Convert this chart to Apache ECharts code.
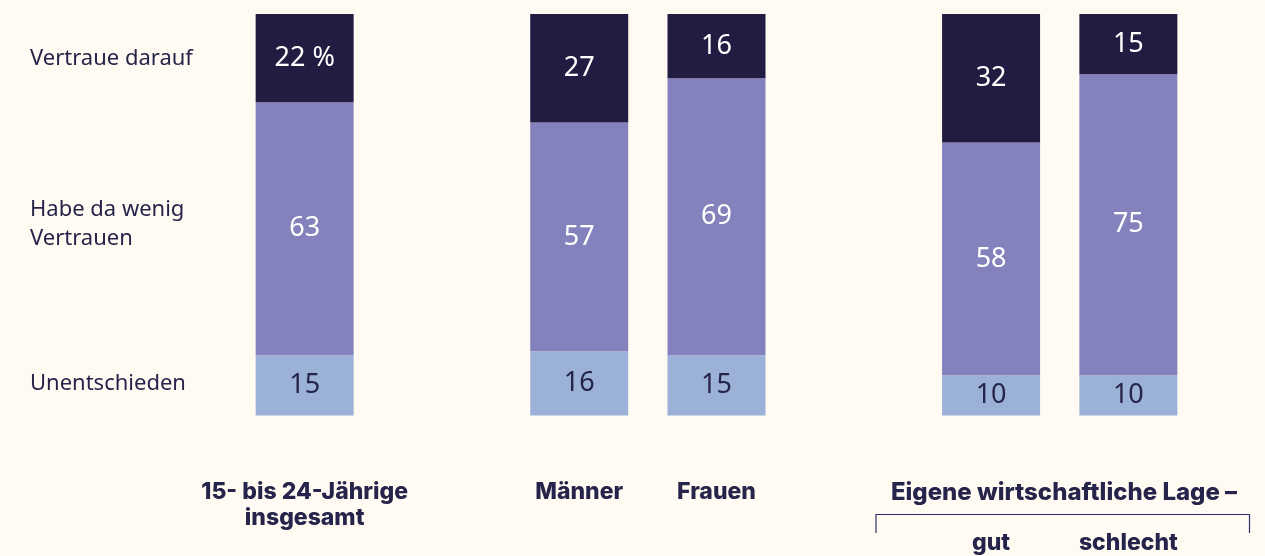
<!DOCTYPE html>
<html>
<head>
<meta charset="utf-8">
<script src="https://cdn.jsdelivr.net/npm/echarts@6/dist/echarts.min.js"></script>
<style>
  html, body { margin: 0; padding: 0; background: #fffbf3; }
  #main { width: 1265px; height: 556px; }
</style>
</head>
<body>
<div id="main"></div>
<script>
// slots: empty ones keep the gaps between the groups
const categories = ['15- bis 24-Jährige\ninsgesamt', '', 'Männer', 'Frauen', '', '\n\ngut', '\n\nschlecht'];
const unentschieden = [15, '-', 16, 15, '-', 10, 10];
const wenigVertrauen = [63, '-', 57, 69, '-', 58, 75];
const vertraue = [22, '-', 27, 16, '-', 32, 15];
const seriesNames = ['Unentschieden', 'Habe da wenig\nVertrauen', 'Vertraue darauf'];

const chart = echarts.init(document.getElementById('main'));

const dark = '#221c42';
const mid = '#8482bc';
const light = '#9bb1d7';
const textColor = '#26244a';
const numFont = '"Noto Sans", sans-serif';

function seg(name, data, color, labelColor, fmt) {
  return {
    name: name,
    type: 'bar',
    stack: 'all',
    barWidth: 98,
    data: data,
    itemStyle: { color: color },
    label: {
      show: true,
      position: 'inside',
      color: labelColor,
      fontFamily: numFont,
      fontSize: 27,
      formatter: fmt || '{c}'
    },
    emphasis: { disabled: true }
  };
}

var option = {
  backgroundColor: '#fffbf3',
  animation: false,
  grid: { left: 236, right: 68, top: 14, bottom: 140 },
  xAxis: {
    type: 'category',
    data: categories,
    axisLine: { show: false },
    axisTick: { show: false },
    axisLabel: {
      interval: 0,
      margin: 64,
      verticalAlign: 'top',
      color: textColor,
      fontFamily: 'Inter, sans-serif',
      fontWeight: 800,
      fontSize: 23,
      lineHeight: 25.5
    }
  },
  yAxis: { type: 'value', min: 0, max: 100, show: false },
  series: [
    seg(seriesNames[0], unentschieden, light, textColor),
    seg(seriesNames[1], wenigVertrauen, mid, '#ffffff'),
    seg(seriesNames[2], vertraue, dark, '#ffffff', function (p) {
      return p.dataIndex === 0 ? p.value + ' %' : p.value;
    })
  ],
  graphic: [
    { type: 'text', left: 30, top: 48, style: { text: seriesNames[2], fill: textColor, font: '22px "Noto Sans", sans-serif' } },
    { type: 'text', left: 30, top: 195, style: { text: seriesNames[1], fill: textColor, font: '22px "Noto Sans", sans-serif', lineHeight: 29 } },
    { type: 'text', left: 30, top: 373, style: { text: seriesNames[0], fill: textColor, font: '22px "Noto Sans", sans-serif' } },
    { type: 'text', x: 1064, y: 493, style: { text: 'Eigene wirtschaftliche Lage –', fill: textColor, font: '800 24px Inter, sans-serif', align: 'center', verticalAlign: 'middle' } },
    { type: 'polyline', shape: { points: [[876, 533], [876, 514.5], [1249.5, 514.5], [1249.5, 533]] }, style: { stroke: '#2f2f6e', lineWidth: 1.2, fill: null } }
  ]
};

chart.setOption(option);
</script>
</body>
</html>
